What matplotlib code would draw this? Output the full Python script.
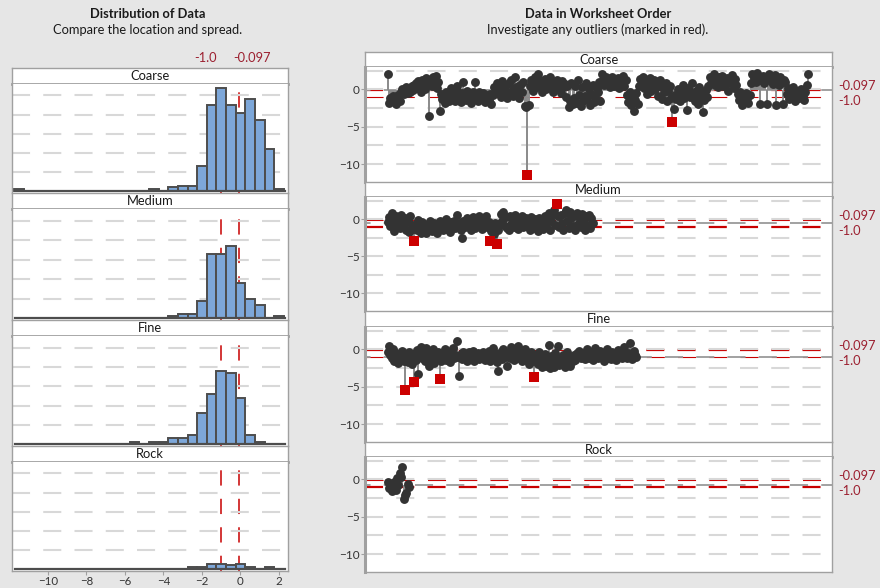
import numpy as np
import matplotlib
matplotlib.use('Agg')
import matplotlib.pyplot as plt
from matplotlib import transforms

plt.rcParams['font.family'] = ['Lato', 'DejaVu Sans']
plt.rcParams['lines.scale_dashes'] = False

groups = ['Coarse', 'Medium', 'Fine', 'Rock']
ref_values = [-1.0, -0.097]
ref_labels = ['-1.0', '-0.097']

# histogram bins (centers, width 0.5) and counts
bin_centers = [-11.5, -11.0, -10.5, -10.0, -9.5, -9.0, -8.5, -8.0, -7.5, -7.0,
               -6.5, -6.0, -5.5, -5.0, -4.5, -4.0, -3.5, -3.0, -2.5, -2.0,
               -1.5, -1.0, -0.5, 0.0, 0.5, 1.0, 1.5, 2.0]
counts_coarse = [1, 0, 0, 0, 0, 0, 0, 0, 0, 0, 0, 0, 0, 0, 1, 0, 2, 3, 3, 13, 45, 54, 45, 41, 48, 37, 22, 1]
counts_medium = [0, 0, 0, 0, 0, 0, 0, 0, 0, 0, 0, 0, 0, 0, 0, 0, 1, 2, 2, 9, 33, 33, 37, 18, 10, 7, 0, 1]
counts_fine = [0, 0, 0, 0, 0, 0, 0, 0, 0, 0, 0, 0, 1, 0, 1, 1, 3, 3, 5, 16, 26, 38, 37, 24, 5, 1, 0, 0]
counts_rock = [0, 0, 0, 0, 0, 0, 0, 0, 0, 0, 0, 0, 0, 0, 0, 0, 0, 0, 1, 1, 3, 3, 2, 3, 1, 0, 1, 0]

# worksheet order values
coarse = [2.0, -1.8, -1.2, -1.6, -0.9, -1.4, -1.9, -1.1, -0.8, -1.5,
          -0.4, 0.1, -0.6, -0.2, 0.3, -0.5, 0.0, -0.3, 0.4, -0.1,
          0.6, 0.9, 0.2, 1.1, 0.5, -0.3, 1.3, 0.8, 0.1, 1.5,
          0.7, -3.5, 1.2, 0.4, 1.6, 0.9, 1.8, 0.2, 1.0, -2.9,
          -0.6, -1.3, -0.9, -1.8, -0.4, -1.1, -1.6, -0.7, 0.2, -1.2,
          -0.8, -1.5, 0.5, -0.3, -1.0, -1.7, -0.5, 1.0, -0.9, -1.4,
          -0.2, -1.1, -0.6, -1.8, -0.4, -1.3, 1.0, -0.8, -1.5, -0.3,
          -0.9, -1.2, -0.5, -1.7, -0.7, -1.0, -1.4, -0.6, -1.9, -0.8,
          0.3, -0.5, 0.8, -0.2, 0.5, -1.0, 1.1, 0.0, -0.7, 0.6,
          -1.2, 0.9, -0.4, 1.3, -0.9, 0.2, 1.7, -0.6, 0.4, -1.1,
          0.7, -0.3, 1.0, -2.2, -2.3, -11.4, -2.1, 0.5, 1.2, -0.2,
          0.8, 1.6, 0.3, 2.0, 0.6, 1.1, -0.4, 0.9, 1.4, 0.1,
          1.2, 0.4, 1.7, 0.7, -0.3, 1.0, 0.2, 1.3, 0.5, 0.9,
          -0.5, 1.1, 0.3, 0.7, -1.0, 0.4, -2.3, -1.6, 0.8, -2.0,
          -1.2, 0.5, -1.8, 1.2, -0.7, -2.2, 0.3, -1.5, -0.9, 0.9,
          -1.3, 0.0, -2.1, -0.6, 0.6, -1.7, -1.0, 0.2, -0.4, 1.0,
          -1.6, 2.0, 1.2, 0.6, 1.6, 0.9, 1.4, 0.3, 1.1, 1.7,
          0.5, 1.3, 0.8, 1.5, 0.2, 1.0, 0.6, 1.8, 0.4, 1.2,
          -0.8, -1.7, -0.3, -2.1, -1.0, -2.9, -1.4, -0.5, -1.9, 0.4,
          1.4, 0.8, 1.6, 0.2, 1.1, -0.6, 0.7, 1.5, -0.2, 0.9,
          1.3, 0.1, 1.0, -0.9, 0.5, 1.2, -1.3, 0.3, -0.4, 0.8,
          -1.5, -0.2, 0.4, -1.1, -4.3, -2.6, -0.7, -1.3, 0.1, -0.9,
          -1.6, -0.3, 0.6, -1.2, -0.6, -2.7, 0.2, -1.0, -0.4, 0.9,
          -0.8, -1.5, -0.2, -1.9, 0.3, -1.2, -0.6, -3.0, -1.4, -0.1,
          -1.0, 0.5, 1.7, 0.9, 1.4, 2.0, 0.6, 1.2, 0.3, 1.6,
          1.0, 1.8, 0.4, 1.3, 0.7, 1.5, -0.2, 1.1, 0.8, 1.9,
          0.2, 1.4, 0.6, -0.6, -1.4, -0.3, -2.1, -0.9, -1.6, -0.5,
          -1.2, -1.8, -0.7, 0.9, 2.1, 1.5, 1.9, 1.0, 2.2, 1.6,
          -2.0, 1.3, 1.8, 0.8, 1.7, -2.0, 1.4, 2.0, 1.1, 1.5,
          0.7, 1.9, -2.1, 1.2, 0.6, 1.6, 0.9, -1.9, 1.3, 1.0,
          -0.6, 0.2, -1.3, -0.4, -1.0, 0.3, -1.5, -0.8, -0.2, -1.2,
          -0.5, 0.1, -0.9, -1.4, -0.3, 0.6, 2.0]
medium = [-0.4, 0.3, -0.9, 0.8, -0.2, -1.6, 0.5, -0.7, 0.1, -1.2,
          0.6, -0.5, -1.0, 0.2, -1.4, -0.3, -1.7, 0.4, -0.8, -1.3,
          -3.0, -0.6, -1.5, -0.1, -1.1, -1.8, -0.4, -1.3, -0.9, -1.9,
          -0.7, -1.2, -0.2, -1.6, -1.0, -0.5, -1.4, -1.8, -0.8, -0.3,
          -1.1, -0.6, -1.5, -0.9, 0.0, -1.3, -0.7, -1.7, -0.4, -1.0,
          -0.2, -1.2, 0.6, -0.8, -0.5, -1.4, -2.6, -0.3, -1.0, -0.6,
          0.1, -1.1, -0.4, -1.5, 0.3, -0.7, -1.2, -0.2, -0.9, 0.4,
          -0.6, -1.3, -0.1, -0.8, 0.5, -1.0, -0.4, -3.0, -1.6, -1.1,
          -2.0, -0.5, -3.3, -1.4, -0.7, 0.7, -0.2, 1.0, -0.9, 0.3,
          -1.2, -1.5, 0.5, -0.6, -0.1, -1.0, 0.6, -0.4, -1.3, 0.2,
          -0.8, 0.4, -1.1, -0.3, 0.1, -0.9, -0.5, -1.4, 0.3, -0.7,
          -1.2, 0.0, -0.6, -1.6, 0.2, -0.9, -0.3, -1.3, 0.5, -1.0,
          -0.4, 0.9, -1.4, -0.2, 0.7, 1.2, -0.8, 2.0, 0.4, -1.1,
          0.6, -0.5, -1.5, 0.8, 1.3, -0.3, -1.2, 1.0, 0.2, -0.9,
          0.5, -1.4, 0.9, -0.6, 0.3, -1.1, 0.7, -0.2, -1.5, 0.4,
          -0.8, 0.6, -1.2, 0.1, -0.5]
fine = [-0.3, 0.4, -0.8, -1.2, 0.1, -1.6, -0.5, -1.0, -1.8, -0.7,
        -1.3, -0.2, -1.5, -5.5, -0.9, -1.7, -0.4, -1.1, -2.0, -0.6,
        -4.4, -1.4, -0.1, -3.3, -0.8, 0.3, -1.2, -0.5, -1.6, 0.2,
        -0.9, -2.2, -0.3, -1.3, 0.0, -1.8, -0.7, -1.1, -0.4, -4.0,
        -1.5, -0.6, -1.0, 0.1, -1.4, -0.2, -0.9, -1.7, -0.5, 0.2,
        -1.2, -0.8, 1.1, -1.0, -3.5, -0.6, -1.3, -0.3, -1.1, -0.7,
        -1.5, -0.4, -0.9, -1.2, -0.2, -1.6, -0.7, -1.0, -0.5, -1.3,
        -0.8, -1.1, -0.3, -1.4, -0.6, -1.0, -0.2, -1.5, -0.8, 0.2,
        -1.2, -0.5, -1.7, -2.9, -0.9, -0.3, -1.3, 0.1, -1.0, -0.6,
        -2.2, -0.4, -1.1, 0.3, -0.7, -1.4, -0.2, -0.9, 0.4, -1.2,
        -0.5, -1.6, -0.8, 0.0, -1.3, -0.6, -1.9, -1.0, -0.3, -1.5,
        -3.7, -0.7, -1.2, -2.0, -0.4, -1.8, -2.4, -1.1, -0.6, -2.2,
        -1.5, 0.6, -2.5, -0.9, -1.7, -2.3, -0.5, -1.4, 0.5, -2.1,
        -1.0, -1.9, -0.7, -2.4, -1.3, -0.3, -1.8, -2.2, -1.1, -1.6,
        -0.8, -1.4, -0.5, -1.0, -0.2, -1.2, -0.6, -0.9, -1.3, -0.4,
        0.1, -1.1, -0.7, -0.3, -1.4, -0.5, 0.2, -0.9, -1.2, -0.6,
        -0.2, -1.0, -0.8, -1.5, -0.4, 0.0, -1.1, -0.7, -1.3, -0.3,
        -0.9, -0.5, -1.4, -0.1, -1.0, -0.6, -1.2, -0.4, 0.3, -0.8,
        -1.1, -0.5, 0.8, -0.9, -1.3, -0.2, -0.7, -1.0]
rock = [-0.3, -1.2, -0.7, -1.6, -1.0, -0.4, -1.4, 0.2, -0.8, 0.8,
        0.3, 1.7, -2.6, -2.1, -1.8, -0.6, -1.0]

# rows flagged as outliers (worksheet order, 0-based)
outliers = {'Coarse': [105, 214], 'Medium': [20, 77, 82, 127],
            'Fine': [13, 20, 39, 110], 'Rock': []}

series = [coarse, medium, fine, rock]
hist_counts = [counts_coarse, counts_medium, counts_fine, counts_rock]

W, H = 880, 588
def rect(x0, y0, x1, y1):
    return [x0 / W, 1 - y1 / H, (x1 - x0) / W, (y1 - y0) / H]

RED = '#c80000'
TXT_RED = '#9c2030'
FRAME = '#a0a0a0'
GRID = '#d8d8d8'
DASH = (0, (13, 9.5))

fig = plt.figure(figsize=(W / 100, H / 100), dpi=100, facecolor='#e6e6e6')

left_rows = [(68, 84, 193), (193, 209, 320), (320, 336, 446), (446, 462, 571)]
right_rows = [(52, 67, 182), (182, 197, 311), (311, 327, 442), (442, 457, 572)]

def strip(x0, x1, s0, s1, name):
    sa = fig.add_axes(rect(x0, s0, x1, s1))
    sa.set_facecolor('white')
    sa.set_xticks([])
    sa.set_yticks([])
    for sp in sa.spines.values():
        sp.set_color(FRAME)
        sp.set_linewidth(1)
    sa.spines['bottom'].set_linewidth(2)
    sa.text(0.5, 0.5, name, ha='center', va='center', fontsize=9.3, color='#1a1a1a',
            transform=sa.transAxes)
    return sa

# ---- left: histograms
for k, (name, cnt) in enumerate(zip(groups, hist_counts)):
    s0, s1, p1 = left_rows[k]
    strip(12, 288, s0, s1, name)
    ax = fig.add_axes(rect(12, s1, 288, p1))
    ax.set_facecolor('white')
    ax.set_xlim(-11.87, 2.47)
    ax.set_ylim(-0.9, 56)
    ax.set_yticks([10, 20, 30, 40, 50])
    ax.grid(axis='y', color=GRID, lw=1.5, linestyle=DASH, zorder=0)
    ax.tick_params(axis='y', left=False, labelleft=False)
    for v in ref_values:
        ax.axvline(v, color=RED, lw=1.1, linestyle=(0, (11, 9.5)), zorder=1)
    ax.bar(bin_centers, cnt, width=0.5, color='#7da7d9', edgecolor='#4d4d4d',
           linewidth=1.4, zorder=2)
    ax.axhline(0, xmin=0.012, xmax=0.99, color='#4d4d4d', lw=1.6, zorder=3)
    ax.spines['top'].set_visible(False)
    for sp in ['left', 'right', 'bottom']:
        ax.spines[sp].set_color(FRAME)
        ax.spines[sp].set_linewidth(1)
    if k < 3:
        ax.spines['bottom'].set_visible(False)
        ax.set_xticks([])
    else:
        ax.set_xticks([-10, -8, -6, -4, -2, 0, 2])
        ax.tick_params(axis='x', length=3, color=FRAME, labelsize=8.3,
                       labelcolor='#333333', pad=0.5)
    if k == 0:
        bt = transforms.blended_transform_factory(ax.transData, fig.transFigure)
        fig.text(ref_values[0], 1 - 58 / H, ref_labels[0], ha='right', va='center',
                 fontsize=9.3, color=TXT_RED,
                 transform=transforms.offset_copy(bt, fig=fig, x=-3, y=0, units='points'))
        fig.text(ref_values[1], 1 - 58 / H, ref_labels[1], ha='left', va='center',
                 fontsize=9.3, color=TXT_RED,
                 transform=transforms.offset_copy(bt, fig=fig, x=-3.5, y=0, units='points'))

# ---- right: worksheet order
red_widths = [(0.8, 1.6), (1.6, 0.8), (0.8, 1.6), (1.6, 0.8)]
for k, (name, vals) in enumerate(zip(groups, series)):
    s0, s1, p1 = right_rows[k]
    strip(365, 832, s0, s1, name)
    ax = fig.add_axes(rect(365, s1, 832, p1))
    ax.set_facecolor('white')
    ax.set_xlim(-17, 334)
    ax.set_ylim(-12.4, 3.0)
    ax.set_yticks([-10, -5, 0])
    ax.set_yticks([-7.5, -2.5, 2.5], minor=True)
    ax.grid(axis='y', which='both', color=GRID, lw=1.5, linestyle=DASH, zorder=0)
    ax.tick_params(axis='y', which='major', length=3, color=FRAME, labelsize=8.5,
                   labelcolor='#333333', pad=1)
    ax.tick_params(axis='y', which='minor', length=0)
    ax.set_xticks([])
    for v, lw in zip(ref_values, red_widths[k]):
        ax.axhline(v, color=RED, lw=lw, linestyle=DASH, zorder=1)
    y = np.array(vals)
    x = np.arange(len(y))
    center = y.mean()
    ax.axhline(center, color='#9a9a9a', lw=1.3, linestyle=(9, (13, 9.5)), zorder=1)
    ax.vlines(x, center, y, color='#8a8a8a', lw=1.4, zorder=2)
    ax.plot(x, y, 'o', color='#333333', ms=6.4, mew=0, zorder=3)
    idx = outliers[name]
    if idx:
        ax.plot(x[idx], y[idx], 's', color='#cc0000', ms=7, mew=0, zorder=4)
    ax.spines['top'].set_visible(False)
    ax.spines['left'].set_color(FRAME)
    ax.spines['left'].set_linewidth(2.2)
    ax.spines['right'].set_color(FRAME)
    ax.spines['right'].set_linewidth(1)
    ax.spines['bottom'].set_color(FRAME)
    ax.spines['bottom'].set_linewidth(1)
    if k < 3:
        ax.spines['bottom'].set_visible(False)
    ax.annotate(ref_labels[1], xy=(1, ref_values[1]), xycoords=('axes fraction', 'data'),
                xytext=(4.5, 3), textcoords='offset points', ha='left', va='center',
                fontsize=9.3, color=TXT_RED, annotation_clip=False)
    ax.annotate(ref_labels[0], xy=(1, ref_values[0]), xycoords=('axes fraction', 'data'),
                xytext=(4.5, -3), textcoords='offset points', ha='left', va='center',
                fontsize=9.3, color=TXT_RED, annotation_clip=False)

fig.text(148 / W, 1 - 14 / H, 'Distribution of Data', ha='center', va='center',
         fontsize=9.3, fontweight='bold', color='#1a1a1a')
fig.text(148 / W, 1 - 30 / H, 'Compare the location and spread.', ha='center',
         va='center', fontsize=9.3, color='#1a1a1a')
fig.text(598 / W, 1 - 14 / H, 'Data in Worksheet Order', ha='center', va='center',
         fontsize=9.3, fontweight='bold', color='#1a1a1a')
fig.text(598 / W, 1 - 30 / H, 'Investigate any outliers (marked in red).', ha='center',
         va='center', fontsize=9.3, color='#1a1a1a')

fig.savefig('out.png', dpi=100, facecolor=fig.get_facecolor())
